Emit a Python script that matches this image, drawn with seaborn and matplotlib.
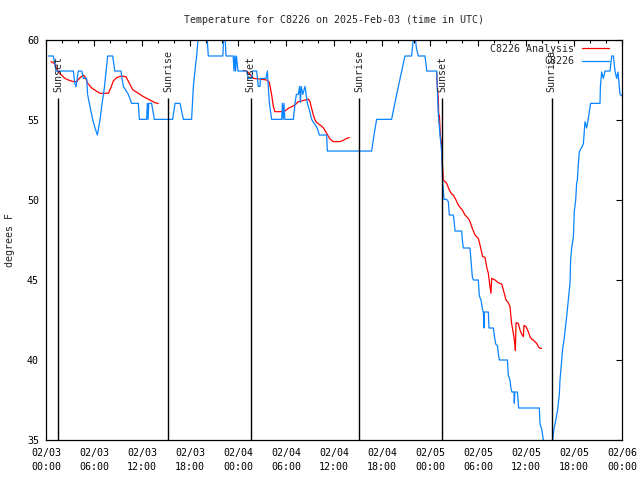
import numpy as np
import pandas as pd
import matplotlib
matplotlib.use("Agg")
import matplotlib.pyplot as plt
import matplotlib.dates as mdates
from matplotlib.lines import Line2D
import seaborn as sns

start = pd.Timestamp("2025-02-03 00:00")

# Observed station temperature (hours after 02/03 00:00 UTC, degrees F)
obs_hours = [0.29, 0.92, 1.1, 1.25, 2.38, 3.42, 3.6, 3.75, 4.04, 4.46, 4.67, 5.08, 5.2, 5.42,
             5.83, 6.13, 6.42, 6.75, 7.0, 7.29, 7.5, 7.71, 8.33, 8.6, 9.375, 9.5, 9.67, 10.3,
             10.7, 11.54, 11.67, 12.58, 12.67, 12.75, 12.85, 13.2, 13.54, 15.83, 16.13, 16.75,
             17.17, 18.2, 18.42, 18.625, 18.83, 19.0, 19.2, 20.08, 20.29, 22.1, 22.2, 22.4,
             22.5, 23.4, 23.5, 23.6, 23.7, 23.8, 24.0, 25.08, 25.29, 25.71, 25.83, 26.33,
             26.54, 26.75, 26.8, 27.5, 27.67, 27.92, 28.21, 29.46, 29.55, 29.65, 29.75, 29.85,
             30.08, 30.92, 31.125, 31.3, 31.54, 31.7, 31.8, 31.9, 32.1, 32.375, 32.67, 33.0,
             33.2, 33.9, 34.17, 35.08, 35.17, 40.71, 41.0, 41.33, 43.2, 43.6, 44.04, 44.46,
             44.875, 45.7, 45.9, 46.1, 46.3, 46.54, 47.375, 47.6, 48.83, 49.04, 49.25, 49.46,
             49.58, 49.67, 49.75, 50.08, 50.29, 50.42, 50.92, 51.0, 51.125, 51.96, 52.04,
             52.17, 53.0, 53.125, 53.29, 53.42, 54.04, 54.17, 54.375, 54.54, 54.67, 54.75,
             54.79, 55.29, 55.375, 55.92, 56.0, 56.21, 56.42, 56.54, 56.67, 57.67, 57.79, 58.0,
             58.125, 58.25, 58.5, 58.54, 58.6, 58.92, 59.08, 61.67, 61.75, 61.96, 62.17, 62.5,
             63.0, 63.33, 63.5, 63.71, 63.96, 64.17, 64.25, 64.46, 64.58, 64.75, 64.875, 65.08,
             65.29, 65.5, 65.58, 65.71, 65.92, 66.04, 66.21, 66.33, 66.42, 66.54, 66.67, 67.17,
             67.375, 67.58, 67.79, 68.08, 69.25, 69.3, 69.46, 69.67, 69.875, 70.5, 70.71,
             70.92, 71.125, 71.33, 71.5, 71.75, 72.0]
obs_temp = [59.0, 59.0, 58.5, 58.06, 58.06, 58.06, 57.3, 57.08, 58.06, 58.06, 57.6, 57.6, 56.6, 56.04,
            55.04, 54.5, 54.06, 55.0, 56.0, 57.0, 58.0, 59.0, 59.0, 58.06, 58.06, 57.6, 57.1, 56.6,
            56.04, 56.04, 55.04, 55.04, 56.04, 55.04, 56.04, 56.04, 55.04, 55.04, 56.04, 56.04,
            55.04, 55.04, 57.1, 58.1, 59.0, 60.0, 60.6, 60.6, 59.0, 59.0, 60.0, 60.0,
            59.0, 59.0, 58.06, 59.0, 58.06, 59.0, 58.06, 58.06, 57.6, 57.6, 58.06, 58.06,
            57.1, 57.1, 57.6, 57.6, 58.06, 56.04, 55.04, 55.04, 56.04, 55.04, 56.04, 55.04,
            55.04, 55.04, 56.04, 56.6, 56.6, 57.1, 56.1, 57.1, 56.6, 57.1, 56.04, 55.5,
            55.04, 54.5, 54.06, 54.06, 53.06, 53.06, 54.06, 55.04, 55.04, 56.04, 57.08, 58.06,
            59.0, 59.0, 60.0, 60.4, 59.5, 59.0, 59.0, 58.06, 58.06, 55.3, 54.06, 53.0,
            51.15, 50.6, 50.04, 50.04, 49.9, 49.06, 49.06, 48.75, 48.06, 48.06, 47.5,
            47.0, 47.0, 46.25, 45.2, 45.0, 45.0, 44.0, 43.75, 43.2, 43.0, 42.0,
            43.0, 43.0, 42.0, 42.0, 41.67, 41.0, 40.9, 40.4, 40.0, 40.0, 39.06, 38.75,
            38.2, 38.0, 38.0, 37.3, 38.0, 38.0, 37.0, 37.0, 36.0, 35.7, 35.0, 34.3,
            34.3, 35.0, 35.7, 36.2, 36.9, 37.9, 38.75, 40.0, 40.7, 41.25, 41.8, 42.7,
            43.75, 44.8, 46.25, 47.0, 47.7, 49.3, 50.0, 51.04, 51.25, 52.25, 53.02, 53.5,
            54.9, 54.5, 55.1, 56.04, 56.04, 57.1, 58.0, 57.6, 58.06, 58.06, 59.0,
            59.0, 58.06, 57.6, 58.0, 56.6, 56.5]

# Analysis temperature (three separate runs, separated by gaps in time)
ana_hours = [0.625, 1.125, 1.33, 1.54, 1.96, 2.375, 2.79, 3.42, 3.83, 4.25, 4.67, 4.875, 5.21,
             5.71, 6.33, 6.75, 7.79, 8.08, 8.42, 8.83, 9.46, 10.0, 10.42, 10.83, 11.54, 12.17,
             13.0, 13.625, 14.04,
             24.67, 25.08, 25.5, 25.92, 26.75, 27.58, 27.92, 28.21, 28.42, 28.625, 29.25, 29.875,
             30.29, 30.71, 31.125, 31.54, 31.96, 32.375, 32.79, 33.0, 33.2, 33.42, 33.625, 33.83,
             34.25, 34.67, 35.08, 35.5, 35.92, 36.75, 37.17, 37.58, 37.92,
             48.83, 48.9, 49.04, 49.1, 49.17, 49.3, 49.46, 49.5, 49.58, 49.67, 50.08, 50.42,
             50.71, 50.92, 51.25, 51.54, 51.75, 52.04, 52.375, 52.79, 53.0, 53.29, 53.625,
             54.04, 54.25, 54.58, 54.875, 55.08, 55.29, 55.5, 55.625, 55.71, 56.125, 56.54,
             56.96, 57.17, 57.5, 57.79, 58.0, 58.2, 58.42, 58.625, 58.67, 58.75, 59.04, 59.25,
             59.46, 59.67, 59.75, 60.0, 60.29, 60.5, 60.71, 60.92, 61.33, 61.54, 61.75, 61.96]
ana_temp = [58.65, 58.5, 58.2, 58.0, 57.8, 57.6, 57.5, 57.4, 57.4, 57.65, 57.8, 57.7, 57.3,
            57.0, 56.8, 56.67, 56.67, 56.98, 57.44, 57.65, 57.75, 57.7, 57.3, 56.9, 56.67, 56.46,
            56.25, 56.08, 56.04,
            58.1, 58.06, 57.85, 57.6, 57.56, 57.5, 57.35, 56.56, 55.83, 55.52, 55.52, 55.56,
            55.73, 55.83, 55.94, 56.15, 56.19, 56.25, 56.31, 56.15, 55.73, 55.31, 55.0, 54.85,
            54.69, 54.52, 54.17, 53.81, 53.65, 53.65, 53.73, 53.85, 53.9,
            58.0, 57.2, 56.35, 55.0, 55.3, 54.0, 53.5, 52.6, 52.0, 51.25, 51.04, 50.62,
            50.375, 50.31, 50.0, 49.69, 49.54, 49.375, 49.06, 48.85, 48.65, 48.23, 47.81,
            47.6, 47.19, 46.46, 46.42, 45.83, 45.42, 44.58, 44.17, 45.1, 45.0, 44.83,
            44.75, 44.375, 43.75, 43.58, 43.33, 42.29, 41.67, 40.94, 40.6, 42.33, 42.29, 41.875,
            41.625, 41.46, 42.17, 42.08, 41.77, 41.46, 41.29, 41.25, 41.04, 40.83, 40.73, 40.73]

sun_hours = [1.55, 15.25, 25.57, 39.17, 49.55, 63.2]
sun_labels = ["Sunset", "Sunrise", "Sunset", "Sunrise", "Sunset", "Sunrise"]
y_ticks = [35, 40, 45, 50, 55, 60]

series_names = ["C8226 Analysis", "C8226"]
title = "Temperature for C8226 on 2025-Feb-03 (time in UTC)"

RED = "#ff0000"
BLUE = "#0a84ff"
FS = 7.2

sns.set_style("white")
plt.rcParams["font.family"] = ["DejaVu Sans Mono", "DejaVu Sans"]

obs_df = pd.DataFrame({"time": start + pd.to_timedelta(obs_hours, unit="h"), "temp": obs_temp})
ana_h = np.asarray(ana_hours)
ana_run = np.cumsum(np.diff(ana_h, prepend=ana_h[0]) > 3.0)
ana_df = pd.DataFrame({"time": start + pd.to_timedelta(ana_hours, unit="h"), "temp": ana_temp,
                       "run": ana_run})
sun_times = start + pd.to_timedelta(sun_hours, unit="h")

fig = plt.figure(figsize=(6.4, 4.8), dpi=100)
ax = fig.add_axes([46 / 640, 40 / 480, 576 / 640, 400 / 480])

sns.lineplot(data=ana_df, x="time", y="temp", units="run", estimator=None, sort=False,
             color=RED, lw=0.9, ax=ax, legend=False)
sns.lineplot(data=obs_df, x="time", y="temp", estimator=None, sort=False,
             color=BLUE, lw=0.9, ax=ax, legend=False)

ax.vlines(sun_times, 35, 56.35, color="black", lw=1.0, zorder=3)
for t, lab in zip(sun_times, sun_labels):
    ax.text(t, 56.72, lab, rotation=90, ha="center", va="bottom", fontsize=FS, zorder=4)

ax.set_xlim(start, start + pd.Timedelta(hours=72))
ax.set_ylim(35, 60)
ax.set_yticks(y_ticks)

ax.xaxis.set_major_locator(mdates.HourLocator(byhour=[0, 6, 12, 18]))
ax.xaxis.set_minor_locator(mdates.HourLocator(byhour=list(range(0, 24, 2))))
ax.xaxis.set_major_formatter(mdates.DateFormatter("%m/%d\n%H:%M"))

ax.tick_params(which="both", direction="in", top=True, right=True, colors="black",
               labelsize=FS, width=0.8)
ax.tick_params(which="major", length=4.0)
ax.tick_params(which="minor", length=2.0)
ax.tick_params(axis="x", pad=6)
ax.tick_params(axis="y", pad=5)
for lbl in ax.get_xticklabels():
    lbl.set_linespacing(1.45)

for s in ax.spines.values():
    s.set_visible(True)
    s.set_color("black")
    s.set_linewidth(0.9)

ax.set_xlabel("")
ax.set_ylabel("degrees F", fontsize=FS)
ax.yaxis.set_label_coords((15 - 46) / 576, 0.5)
ax.set_title(title, fontsize=FS, pad=12)

handles = [Line2D([], [], color=RED, lw=0.9), Line2D([], [], color=BLUE, lw=0.9)]
ax.legend(handles, series_names, loc="upper right", bbox_to_anchor=(0.978, 0.99),
          frameon=False, markerfirst=False, fontsize=FS, handlelength=2.76,
          handletextpad=0.75, labelspacing=0.22, borderpad=0, borderaxespad=0)

fig.savefig("out.png", dpi=100)
